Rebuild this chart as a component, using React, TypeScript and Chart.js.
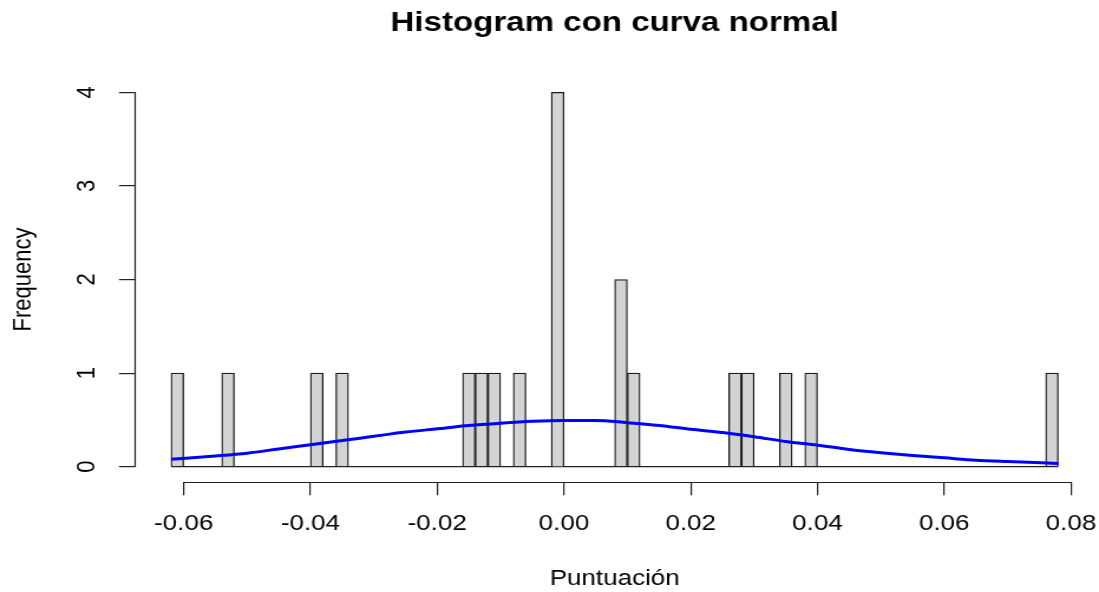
import React, { useEffect, useRef } from 'react';
import { Chart, registerables } from 'chart.js';

Chart.register(...registerables);

// ---- data ----
const binCenters = [-0.061, -0.053, -0.039, -0.035, -0.015, -0.013, -0.011, -0.007, -0.001, 0.009, 0.011, 0.027, 0.029, 0.035, 0.039, 0.077];
const binCounts = [1, 1, 1, 1, 1, 1, 1, 1, 4, 2, 1, 1, 1, 1, 1, 1];
const histRange = [-0.062, 0.078];

const curveX = [-0.062, -0.055, -0.05, -0.045, -0.04, -0.035, -0.03, -0.025, -0.02, -0.015, -0.01, -0.005, 0.0, 0.005, 0.01, 0.015, 0.02, 0.025, 0.03, 0.035, 0.04, 0.045, 0.05, 0.055, 0.06, 0.065, 0.07, 0.078];
const curveY = [0.08, 0.115, 0.145, 0.19, 0.235, 0.28, 0.325, 0.37, 0.405, 0.44, 0.465, 0.485, 0.495, 0.495, 0.47, 0.44, 0.4, 0.365, 0.32, 0.27, 0.23, 0.185, 0.15, 0.12, 0.095, 0.07, 0.055, 0.035];

const xTicks = [-0.06, -0.04, -0.02, 0, 0.02, 0.04, 0.06, 0.08];
const yTicks = [0, 1, 2, 3, 4];
const xRange = [-0.0676, 0.0836];
const yRange = [-0.16, 4.16];

const titleText = 'Histogram con curva normal';
const xTitle = 'Puntuación';
const yTitle = 'Frequency';

// ---- layout ----
const CANVAS_W = 931;
const CANVAS_H = 592;
const DISPLAY_W = 1099;
const FONT = '"Liberation Sans", Arial, Helvetica, sans-serif';

const axisLines = {
  id: 'axisLines',
  afterDraw(chart: any) {
    const { ctx, chartArea, scales } = chart;
    const xs = scales.x;
    const ys = scales.y;
    ctx.save();
    ctx.strokeStyle = '#222';
    ctx.lineWidth = 1.2;
    ctx.beginPath();
    const y0 = Math.round(chartArea.bottom) + 0.5;
    ctx.moveTo(xs.getPixelForValue(xTicks[0]), y0);
    ctx.lineTo(xs.getPixelForValue(xTicks[xTicks.length - 1]), y0);
    const x0 = Math.round(chartArea.left) - 0.5;
    ctx.moveTo(x0, ys.getPixelForValue(yTicks[0]));
    ctx.lineTo(x0, ys.getPixelForValue(yTicks[yTicks.length - 1]));
    ctx.stroke();
    ctx.restore();
  },
};

export default function App() {
  const ref = useRef<HTMLCanvasElement | null>(null);

  useEffect(() => {
    if (!ref.current) return;
    const chart = new Chart(ref.current, {
      type: 'bar',
      data: {
        datasets: [
          {
            type: 'line',
            label: 'curva',
            data: curveX.map((x, i) => ({ x, y: curveY[i] })),
            borderColor: '#0000ff',
            borderWidth: 3,
            pointRadius: 0,
            tension: 0.4,
            cubicInterpolationMode: 'monotone',
            fill: false,
            order: 0,
          } as any,
          {
            type: 'bar',
            label: 'hist',
            data: binCenters.map((x, i) => ({ x, y: binCounts[i] })),
            backgroundColor: '#d3d3d3',
            borderColor: '#1a1a1a',
            borderWidth: 1.3,
            barPercentage: 1,
            categoryPercentage: 1,
            order: 1,
          } as any,
          {
            type: 'line',
            label: 'base',
            data: histRange.map((x) => ({ x, y: 0 })),
            borderColor: '#222',
            borderWidth: 1.2,
            pointRadius: 0,
            fill: false,
            order: 2,
          } as any,
        ],
      },
      options: {
        responsive: false,
        animation: false,
        devicePixelRatio: 1,
        layout: { padding: { left: 0, right: 4.4, top: 0, bottom: 0 } },
        plugins: {
          legend: { display: false },
          tooltip: { enabled: false },
          title: {
            display: true,
            text: titleText,
            fullSize: false,
            color: '#000',
            font: { family: FONT, size: 28, weight: 'bold' },
            padding: { top: 6.5, bottom: 37.2 },
          },
        },
        scales: {
          x: {
            type: 'linear',
            min: xRange[0],
            max: xRange[1],
            offset: false,
            afterBuildTicks: (s: any) => {
              s.ticks = xTicks.map((v) => ({ value: v }));
            },
            afterFit: (s: any) => {
              s.height = 110.3;
              s.paddingLeft = 0;
              s.paddingRight = 0;
            },
            grid: { display: true, drawOnChartArea: false, drawTicks: true, tickLength: 13.5, color: '#222', lineWidth: 1.2, offset: false },
            border: { display: false },
            ticks: {
              autoSkip: false,
              minRotation: 0,
              maxRotation: 0,
              padding: 16,
              color: '#000',
              font: { family: FONT, size: 22 },
              callback: (v: any) => Number(v).toFixed(2),
            },
            title: { display: true, text: xTitle, color: '#000', font: { family: FONT, size: 22 }, padding: { top: 0, bottom: 0 } },
          },
          y: {
            type: 'linear',
            min: yRange[0],
            max: yRange[1],
            afterBuildTicks: (s: any) => {
              s.ticks = yTicks.map((v) => ({ value: v }));
            },
            afterFit: (s: any) => {
              s.width = 114.8;
              s.paddingTop = 0;
              s.paddingBottom = 0;
            },
            grid: { display: true, drawOnChartArea: false, drawTicks: true, tickLength: 14, color: '#222', lineWidth: 1.2 },
            border: { display: false },
            ticks: {
              minRotation: 90,
              maxRotation: 90,
              crossAlign: 'center',
              padding: 21,
              color: '#000',
              font: { family: FONT, size: 22 },
              callback: (v: any) => String(v),
            },
            title: { display: true, text: yTitle, color: '#000', font: { family: FONT, size: 22 }, padding: { top: 6.3, bottom: 0 } },
          },
        },
      } as any,
      plugins: [axisLines],
    });
    return () => chart.destroy();
  }, []);

  return (
    <div style={{ position: 'absolute', left: 0, top: 0, width: DISPLAY_W, height: CANVAS_H, background: '#fff' }}>
      <canvas
        ref={ref}
        width={CANVAS_W}
        height={CANVAS_H}
        style={{ display: 'block', width: DISPLAY_W + 'px', height: CANVAS_H + 'px' }}
      />
    </div>
  );
}
